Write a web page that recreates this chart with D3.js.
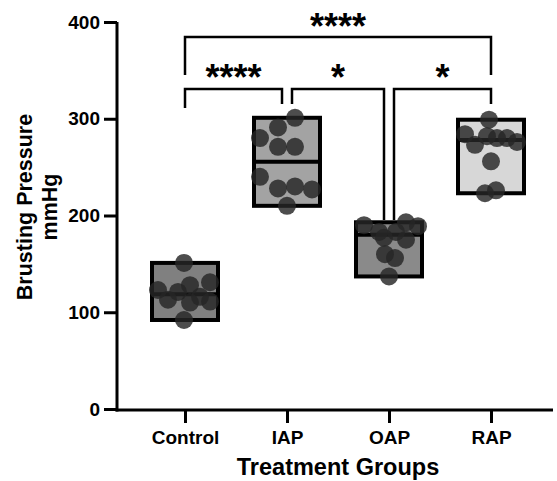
<!DOCTYPE html>
<html>
<meta charset="utf-8">
<head>
    <script src="https://d3js.org/d3.v7.min.js"></script>
</head>

<style>
  body { margin: 0; background: #fff; }
  svg text {
  font-family: "Liberation Sans", Arial, sans-serif;
  font-weight: bold;
  fill: #000;
  }
  svg .axis path, svg .axis line {
  stroke: #000;
  stroke-width: 3px;
  }
  svg .box {
  stroke: #000;
  stroke-width: 4px;
  }
  svg .dot {
  fill: #262626;
  opacity: .82;
  }
  svg .bracket {
  fill: none;
  stroke: #000;
  stroke-width: 2.5px;
  }
</style>

<body>
    <script>

        // data
        var groups = ["Control", "IAP", "OAP", "RAP"];
        var control = [151, 123, 121, 128, 131, 113, 110, 116, 111, 92];
        var iap = [301, 291, 280, 271, 271, 240, 228, 230, 227, 210];
        var oap = [190, 193, 189, 183, 183, 177, 175, 160, 156, 137];
        var rap = [299, 284, 273, 282, 280, 280, 276, 256, 223, 226];
        var yTicks = [0, 100, 200, 300, 400];
        var boxColors = ["#808080", "#a3a3a3", "#8a8a8a", "#d7d7d7"];
        // significance brackets: from group, to group, label
        var comparisons = [
            ["Control", "RAP", "****"],
            ["Control", "IAP", "****"],
            ["IAP", "OAP", "*"],
            ["OAP", "RAP", "*"]
        ];

        // horizontal scatter of the dots (px), only for looks
        var jitter = [
            [-1, -27, -7, 5, 25, -17, 5, 15, 25, -1],
            [8, -9, -27, -9, 8, -27, -9, 8, 25, 0],
            [-25, 17, 29, -10, 7, -5, 17, -4, 6, 0],
            [-2, -26, -16, -4, 6, 16, 26, 0, -6, 5]
        ];
        var series = [control, iap, oap, rap];

        var width = 557,
            height = 481,
            axisX = 117,
            axisY = 410,
            boxW = 66;

        var svg = d3.select("body").append("svg")
            .attr("width", width)
            .attr("height", height);

        var y = d3.scaleLinear().domain([0, 400]).range([409, 22]);
        var x = d3.scalePoint().domain(groups).range([185, 491]);

        // y axis
        var yAxis = svg.append("g")
            .attr("class", "axis")
            .attr("transform", "translate(" + axisX + ",0)")
            .call(d3.axisLeft(y).tickValues(yTicks).tickSize(13).tickSizeOuter(0).tickPadding(4));
        yAxis.selectAll("text").style("font-size", "19px");
        yAxis.select(".domain").attr("d", "M0," + (axisY + 1.5) + "V" + y(400));

        // x axis
        var xAxis = svg.append("g")
            .attr("class", "axis")
            .attr("transform", "translate(0," + axisY + ")")
            .call(d3.axisBottom(x).tickSize(13).tickSizeOuter(0));
        xAxis.select(".domain").attr("d", "M" + (axisX - 1.5) + ",0H553");
        xAxis.selectAll("text")
            .attr("y", 34)
            .attr("dy", null)
            .style("font-size", "19px");

        svg.append("text")
            .attr("x", 338)
            .attr("y", 475)
            .attr("text-anchor", "middle")
            .style("font-size", "23.5px")
            .text("Treatment Groups");

        var ytitle = svg.append("text")
            .attr("transform", "rotate(-90)")
            .attr("text-anchor", "middle")
            .style("font-size", "21.5px");
        ytitle.append("tspan").attr("x", -207).attr("y", 32).text("Brusting Pressure");
        ytitle.append("tspan").attr("x", -207).attr("y", 57).text("mmHg");

        // floating boxes (min to max) with median line
        var plot = svg.append("g");
        series.forEach(function(vals, i) {
            var cx = x(groups[i]);
            var ext = d3.extent(vals);
            plot.append("rect")
                .attr("class", "box")
                .attr("x", cx - boxW / 2)
                .attr("width", boxW)
                .attr("y", y(ext[1]))
                .attr("height", y(ext[0]) - y(ext[1]))
                .attr("fill", boxColors[i]);
            plot.append("line")
                .attr("x1", cx - boxW / 2)
                .attr("x2", cx + boxW / 2)
                .attr("y1", y(d3.median(vals)))
                .attr("y2", y(d3.median(vals)))
                .attr("stroke", "#000")
                .attr("stroke-width", 4);
        });

        series.forEach(function(vals, i) {
            plot.selectAll(null)
                .data(vals)
                .enter().append("circle")
                .attr("class", "dot")
                .attr("cx", function(d, j) { return x(groups[i]) + jitter[i][j]; })
                .attr("cy", function(d) { return y(d); })
                .attr("r", 9);
        });

        // brackets
        var legEnd = { "Control": 108, "IAP": 104, "OAP": 220, "RAP": 104 };
        var br = svg.append("g");
        comparisons.forEach(function(c, k) {
            var top = k == 0;
            var yb = top ? 37 : 89;
            var x1 = x(c[0]), x2 = x(c[1]);
            if (!top) {
                if (c[0] != "Control") x1 += 5;
                if (c[1] != "RAP") x2 -= 5;
            }
            var y1 = top ? 75 : legEnd[c[0]],
                y2 = top ? 75 : legEnd[c[1]];
            br.append("path")
                .attr("class", "bracket")
                .attr("d", "M" + x1 + "," + y1 + "V" + yb + "H" + x2 + "V" + y2);
            br.append("text")
                .attr("x", (x1 + x2) / 2)
                .attr("y", top ? 39 : 90)
                .attr("text-anchor", "middle")
                .style("font-size", "36px")
                .text(c[2]);
        });
    </script>
</body>
</html>
